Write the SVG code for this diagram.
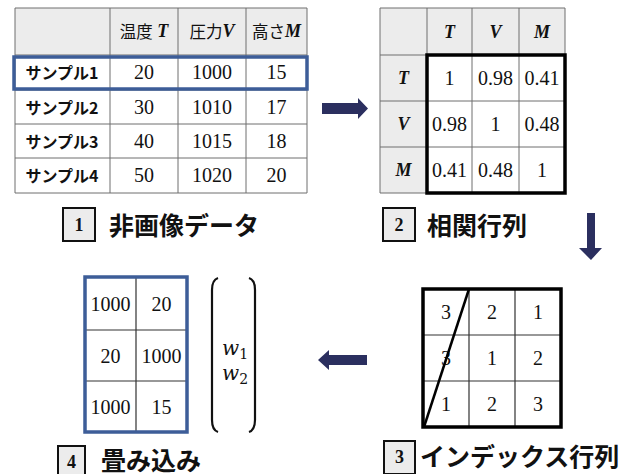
<svg xmlns="http://www.w3.org/2000/svg" width="634" height="474" viewBox="0 0 634 474">
<style>
.hd{fill:#ececec}
.thin{stroke:#6e6e6e;stroke-width:1;fill:none}
.thinb{stroke:#333;stroke-width:1.2;fill:none}
.thick{stroke:#000;stroke-width:3.5;fill:none}
.blue{stroke:#3d5d98;stroke-width:3.5;fill:none}
.num{font-family:"Liberation Serif","Times New Roman",serif;font-size:20px;fill:#111;text-anchor:middle;dominant-baseline:central}
.var{font-family:"Liberation Serif","Times New Roman",serif;font-size:18px;font-weight:bold;font-style:italic;fill:#111}
.jp{font-family:"Noto Sans CJK JP","Noto Sans",sans-serif;font-size:16.5px;fill:#111}
.jpb{font-family:"Noto Sans CJK JP","Noto Sans",sans-serif;font-size:16px;font-weight:bold;fill:#111;text-anchor:middle;dominant-baseline:central}
.ttl{font-family:"Noto Sans CJK JP","Noto Sans",sans-serif;font-size:25px;font-weight:bold;fill:#111;dominant-baseline:central}
.lbox{fill:#ececec;stroke:#111;stroke-width:2}
.lnum{font-family:"Liberation Serif","Times New Roman",serif;font-size:18px;font-weight:bold;fill:#111;text-anchor:middle;dominant-baseline:central}
.arr{fill:#2b2f5f}
.par{stroke:#111;stroke-width:2.2;fill:none}
</style>

<g id="table1">
  <rect class="hd" x="15" y="8" width="292" height="47"/>
  <path class="thin" d="M15 8H307V193H15Z M15 55H307 M15 90H307 M15 124H307 M15 158H307 M110 8V193 M178 8V193 M246 8V193"/>
  <text class="jp" x="144" y="31" text-anchor="middle" dominant-baseline="central">温度<tspan class="var"> T</tspan></text>
  <text class="jp" x="212" y="31" text-anchor="middle" dominant-baseline="central">圧力<tspan class="var">V</tspan></text>
  <text class="jp" x="276.5" y="31" text-anchor="middle" dominant-baseline="central">高さ<tspan class="var">M</tspan></text>
  <text class="jpb" x="62" y="72">サンプル1</text>
  <text class="jpb" x="62" y="107">サンプル2</text>
  <text class="jpb" x="62" y="141">サンプル3</text>
  <text class="jpb" x="62" y="175">サンプル4</text>
  <text class="num" x="144" y="72">20</text><text class="num" x="212" y="72">1000</text><text class="num" x="276.5" y="72">15</text>
  <text class="num" x="144" y="107">30</text><text class="num" x="212" y="107">1010</text><text class="num" x="276.5" y="107">17</text>
  <text class="num" x="144" y="141">40</text><text class="num" x="212" y="141">1015</text><text class="num" x="276.5" y="141">18</text>
  <text class="num" x="144" y="175">50</text><text class="num" x="212" y="175">1020</text><text class="num" x="276.5" y="175">20</text>
  <rect class="blue" x="14" y="57" width="293" height="32"/>
</g>

<g id="label1">
  <rect class="lbox" x="63" y="208" width="32" height="33"/>
  <text class="lnum" x="79" y="225">1</text>
  <text class="ttl" x="109" y="224">非画像データ</text>
</g>

<g id="table2">
  <rect class="hd" x="380" y="8" width="185" height="47"/>
  <rect class="hd" x="380" y="55" width="47" height="138"/>
  <path class="thin" d="M380 8H565V193H380Z M380 55H565 M380 101H565 M380 147H565 M427 8V193 M472 8V193 M519 8V193"/>
  <text class="var" x="449.5" y="32" text-anchor="middle" dominant-baseline="central">T</text>
  <text class="var" x="495.5" y="32" text-anchor="middle" dominant-baseline="central">V</text>
  <text class="var" x="542" y="32" text-anchor="middle" dominant-baseline="central">M</text>
  <text class="var" x="403.5" y="78" text-anchor="middle" dominant-baseline="central">T</text>
  <text class="var" x="403.5" y="124" text-anchor="middle" dominant-baseline="central">V</text>
  <text class="var" x="403.5" y="170" text-anchor="middle" dominant-baseline="central">M</text>
  <text class="num" x="449.5" y="78">1</text><text class="num" x="495.5" y="78">0.98</text><text class="num" x="542" y="78">0.41</text>
  <text class="num" x="449.5" y="124">0.98</text><text class="num" x="495.5" y="124">1</text><text class="num" x="542" y="124">0.48</text>
  <text class="num" x="449.5" y="170">0.41</text><text class="num" x="495.5" y="170">0.48</text><text class="num" x="542" y="170">1</text>
  <rect class="thick" x="427" y="55" width="138" height="138"/>
</g>

<g id="label2">
  <rect class="lbox" x="383" y="208" width="32" height="33"/>
  <text class="lnum" x="399" y="225">2</text>
  <text class="ttl" x="427" y="224">相関行列</text>
</g>

<g id="table3">
  <path class="thinb" d="M469 289V427 M515 289V427 M423 335H561 M423 381H561"/>
  <text class="num" x="446" y="312">3</text><text class="num" x="492" y="312">2</text><text class="num" x="538" y="312">1</text>
  <text class="num" x="446" y="358">3</text><text class="num" x="492" y="358">1</text><text class="num" x="538" y="358">2</text>
  <text class="num" x="446" y="404">1</text><text class="num" x="492" y="404">2</text><text class="num" x="538" y="404">3</text>
  <line x1="469" y1="289" x2="424" y2="427" stroke="#000" stroke-width="2.5"/>
  <rect class="thick" x="423" y="289" width="138" height="138"/>
</g>

<g id="label3">
  <rect class="lbox" x="384" y="441" width="31" height="33"/>
  <text class="lnum" x="399.5" y="457">3</text>
  <text class="ttl" x="420" y="455" font-size="26px">インデックス行列</text>
</g>

<g id="table4">
  <path class="thinb" d="M136 277V432 M85 330H187 M85 381H187"/>
  <text class="num" x="110.5" y="303.5">1000</text><text class="num" x="161.5" y="303.5">20</text>
  <text class="num" x="110.5" y="355.5">20</text><text class="num" x="161.5" y="355.5">1000</text>
  <text class="num" x="110.5" y="406.5">1000</text><text class="num" x="161.5" y="406.5">15</text>
  <rect class="blue" x="85" y="277" width="102" height="155"/>
</g>

<g id="weights">
  <path class="par" d="M218 278Q212 280 212 290V420Q212 430 218 432"/>
  <path class="par" d="M249 278Q255 280 255 290V420Q255 430 249 432"/>
  <text x="222" y="355" font-family="'DejaVu Serif','Liberation Serif',serif" font-size="20px" font-style="italic" fill="#111">w<tspan font-size="14px" font-style="normal" dy="4">1</tspan></text>
  <text x="222" y="380" font-family="'DejaVu Serif','Liberation Serif',serif" font-size="20px" font-style="italic" fill="#111">w<tspan font-size="14px" font-style="normal" dy="4">2</tspan></text>
</g>

<g id="label4">
  <rect class="lbox" x="58" y="446" width="27" height="33"/>
  <text class="lnum" x="71.5" y="462">4</text>
  <text class="ttl" x="101" y="459" font-size="24px">畳み込み</text>
</g>

<g id="connectors">
  <path class="arr" d="M322 103H358V98L368 108.5L358 119V114H322Z"/>
  <path class="arr" d="M587 213H595V248H602L591 260L579 248H587Z"/>
  <path class="arr" d="M367 355H329V350L318 360L329 370V365H367Z"/>
</g>
</svg>
